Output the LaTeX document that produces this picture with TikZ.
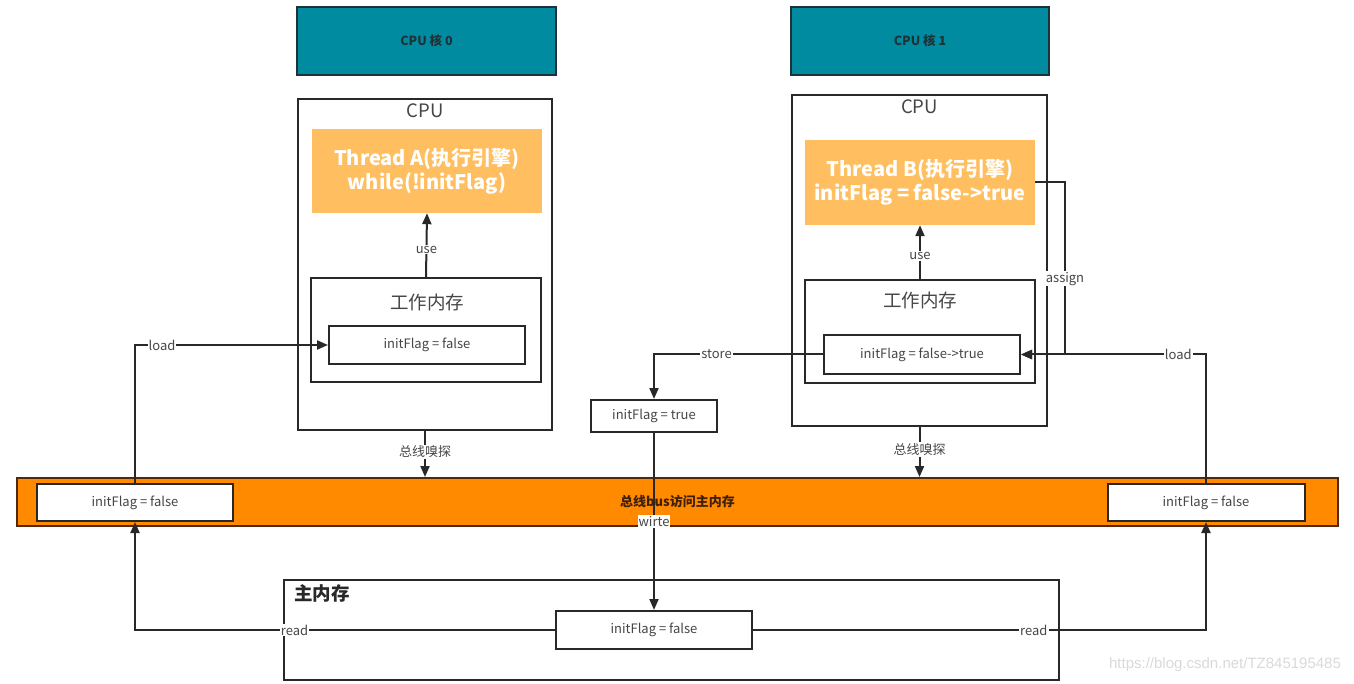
\documentclass[tikz,border=0pt]{standalone}
\usepackage{fontspec}
\setmainfont{Noto Sans CJK SC}
\newfontfamily\wmfont{Liberation Sans}
\usetikzlibrary{arrows.meta}
\definecolor{teal0}{RGB}{0,139,160}
\definecolor{tealb}{RGB}{30,50,55}
\definecolor{thr}{RGB}{255,190,95}
\definecolor{busor}{RGB}{255,138,0}
\definecolor{busb}{RGB}{80,40,10}
\definecolor{ln}{RGB}{40,40,40}
\definecolor{tx}{RGB}{70,70,70}
\tikzset{
  corebox/.style={draw=tealb,line width=2pt,fill=teal0,inner sep=0pt,
    font=\fontsize{12.5}{14}\selectfont\bfseries,text=tealb},
  framebox/.style={draw=ln,line width=2pt,fill=white,inner sep=0pt},
  thrbox/.style={fill=thr,inner sep=0pt,text=white,align=center,
    font=\fontsize{20}{24}\selectfont\bfseries},
  valbox/.style={draw=ln,line width=2pt,fill=white,inner sep=0pt,text=tx,
    font=\fontsize{13}{15}\selectfont},
  titletxt/.style={text=tx,font=\fontsize{18.5}{20}\selectfont,inner sep=0pt},
  arr/.style={draw=ln,line width=2pt,-{Triangle[length=11pt,width=9pt]}},
  lbl/.style={fill=white,text=tx,inner sep=1pt,font=\fontsize{13}{15}\selectfont},
}
\begin{document}
\begin{tikzpicture}[x=1pt,y=-1pt]
\useasboundingbox (0,0) rectangle (1354,684);
% CPU cores
\node[corebox,minimum width=259pt,minimum height=68pt] (core0) at (426.5,41) {CPU 核 0};
\node[corebox,minimum width=258pt,minimum height=68pt] (core1) at (920,41) {CPU 核 1};
% CPU frames
\node[framebox,minimum width=254pt,minimum height=331pt] (cpu0) at (425,264.5) {};
\node[framebox,minimum width=255pt,minimum height=331pt] (cpu1) at (919.5,260.5) {};
\node[titletxt] (cpu0t) at (425,111) {CPU};
\node[titletxt] (cpu1t) at (919.5,107) {CPU};
% threads
\node[thrbox,minimum width=230pt,minimum height=84pt] (thA) at (427,171) {Thread A(执行引擎)\\while(!initFlag)};
\node[thrbox,minimum width=230pt,minimum height=85pt] (thB) at (920,182.5) {Thread B(执行引擎)\\initFlag = false->true};
% working memories
\node[framebox,minimum width=230pt,minimum height=104pt] (wm0) at (426,330) {};
\node[framebox,minimum width=230pt,minimum height=103pt] (wm1) at (920,331.5) {};
\node[titletxt] (wm0t) at (427,302) {工作内存};
\node[titletxt] (wm1t) at (920,300) {工作内存};
\node[valbox,minimum width=196pt,minimum height=38pt] (v0) at (427,345) {initFlag = false};
\node[valbox,minimum width=196pt,minimum height=39pt] (v1) at (922,354.5) {initFlag = false->true};
\node[valbox,minimum width=126pt,minimum height=32pt] (vt) at (654,416) {initFlag = true};
% bus
\node[draw=busb,line width=2pt,fill=busor,inner sep=0pt,minimum width=1321pt,minimum height=48pt,
  text=busb!80!black,font=\fontsize{13}{15}\selectfont\bfseries] (bus) at (677.5,502) {总线bus访问主内存};
\node[valbox,minimum width=196pt,minimum height=37pt] (bl) at (135,502.5) {initFlag = false};
\node[valbox,minimum width=197pt,minimum height=37pt] (br) at (1206,502.5) {initFlag = false};
% main memory
\node[framebox,minimum width=775pt,minimum height=100pt] (mm) at (671.5,630) {};
\node[anchor=west,inner sep=0pt,text=ln,font=\fontsize{18.5}{20}\selectfont\bfseries] (mmt) at (294,593) {主内存};
\node[valbox,minimum width=196pt,minimum height=38pt] (mv) at (654,630) {initFlag = false};
% connectors
\draw[arr] (wm0.north) -- node[lbl,pos=0.43] {use} (thA.south);
\draw[arr] (wm1.north) -- node[lbl,pos=0.43] {use} (thB.south);
\draw[arr] (bl.north) |- node[lbl,pos=0.57] {load} (v0.west);
\coordinate (ac) at (1065,354.5);
\draw[arr] (thB.east) -| node[lbl,pos=0.78] {assign} (ac) -- (v1.east);
\draw[arr] (br.north) |- node[lbl,pos=0.575] {load} (v1.east);
\draw[arr] (v1.west) -| node[lbl,pos=0.315] {store} (vt.north);
\draw[arr] (cpu0.south) -- node[lbl,pos=0.45] {总线嗅探} (cpu0.south |- bus.north);
\draw[arr] (cpu1.south) -- node[lbl,pos=0.45] {总线嗅探} (cpu1.south |- bus.north);
\draw[arr] (vt.south) -- node[lbl,pos=0.5] {wirte} (mv.north);
\draw[arr] (mv.west) -| node[lbl,pos=0.31] {read} (bl.south);
\draw[arr] (mv.east) -| node[lbl,pos=0.31] {read} (br.south);
% watermark
\node[text=gray!30,font=\wmfont\fontsize{15}{17}\selectfont,inner sep=0pt] (wm) at (1225,665) {https://blog.csdn.net/TZ845195485};
\end{tikzpicture}
\end{document}
